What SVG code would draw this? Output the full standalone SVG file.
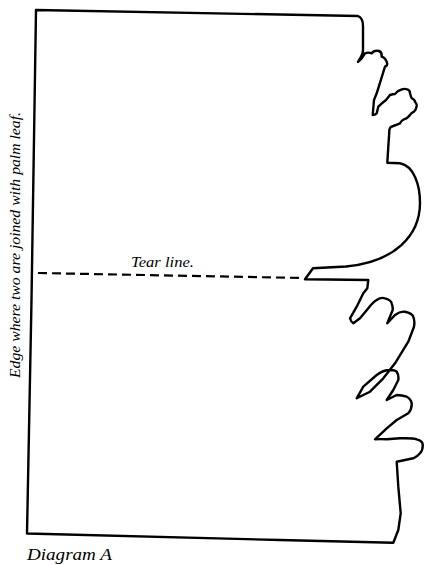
<svg xmlns="http://www.w3.org/2000/svg" width="424" height="565" viewBox="0 0 424 565">
<style>
.outline{fill:none;stroke:#000;stroke-width:2.4;stroke-linejoin:round;stroke-linecap:round}
.tear{fill:none;stroke:#000;stroke-width:2.2;stroke-dasharray:9 5}
.lbl{font-family:"Liberation Serif","Times New Roman",serif;font-style:italic;fill:#000}
</style>
<rect width="424" height="565" fill="#fff"/>
<g id="leaf">
<path class="outline" d="M36,10 L358,16 Q363,18 363,26 L363,50 C363,55 360,58 358,62 L361.7,58.3 L365,53.3 Q368,52 371.7,53.3 Q374,50 379,51 Q382,52 381.7,56.7 Q386,58 387.3,64 Q387,66 385,66.7 L376.7,93.3 L374,100 L372.7,115 Q375,115 376.7,113.3 L378.3,106.7 Q382,103 386,100 L390,95 Q393,94 395,94 Q398,91 399,90.7 Q403,88 407.3,89.3 Q410,90 410,93.3 Q411,97 411.7,98.3 Q415,100 415,101.7 Q417,104 416.7,106 Q416,110 414,111.7 Q411,113 410,115 Q408,118 404,119.3 Q401,121 400,123.3 Q396,125 393.3,126 Q390,127 390,128.3 Q389,130 389.3,131.7 L388.3,146.7 L387.3,162.7 L400,163.3 C414,166 420,185 420,203 C420,235 395,262 346,266.5 L313,268.3 L305,279.3 L368.3,280 L367.3,288.3 L363.3,293.3 L356.7,306.7 L350,318.3 Q351,322 353.3,323.3 L360,318.3 L368.3,308.3 Q373,302 376.7,300 Q381,297 385,298.3 Q391,300 391.7,303.3 Q393,307 392.7,310 L387.3,323.3 L395,315 Q400,311 405,311.7 Q412,313 413.3,316.7 Q415,321 414,326.7 L408.3,341.7 L395,363.3 L383.3,378.3 L370,391.7 L356.7,398.3 L363.3,386.7 L376.7,375 Q383,370 390,370 Q395,370 396.7,371.7 Q399,375 398.3,380 L393.3,390 L386.7,400 L396.7,395 Q402,395 406.7,396.7 Q411,399 411.7,403.3 Q412,409 408.3,413.3 L396.7,420 L386.7,428.3 L375,439.3 Q380,439 386.7,439.3 L400,438.3 Q414,438 416.7,439.3 Q423,441 422.7,445 Q423,450 420,453.3 Q417,457 413.3,458.3 L396.7,461.7 L398.3,486.7 L400.7,513.3 L398.3,530 L393.3,542.7 L280,540 L27,533.5 L31.5,300 Z"/>
</g>
<g id="connectors">
<path class="tear" d="M38,273 L303,278"/>
</g>
<g id="labels">
<text class="lbl" x="131" y="267" font-size="15" textLength="63" lengthAdjust="spacingAndGlyphs">Tear line.</text>
<text class="lbl" x="27" y="560" font-size="17" textLength="85" lengthAdjust="spacingAndGlyphs">Diagram A</text>
<text class="lbl" transform="translate(20,245) rotate(-90)" x="0" y="0" font-size="14" text-anchor="middle" textLength="266" lengthAdjust="spacingAndGlyphs">Edge where two are joined with palm leaf.</text>
</g>
</svg>
